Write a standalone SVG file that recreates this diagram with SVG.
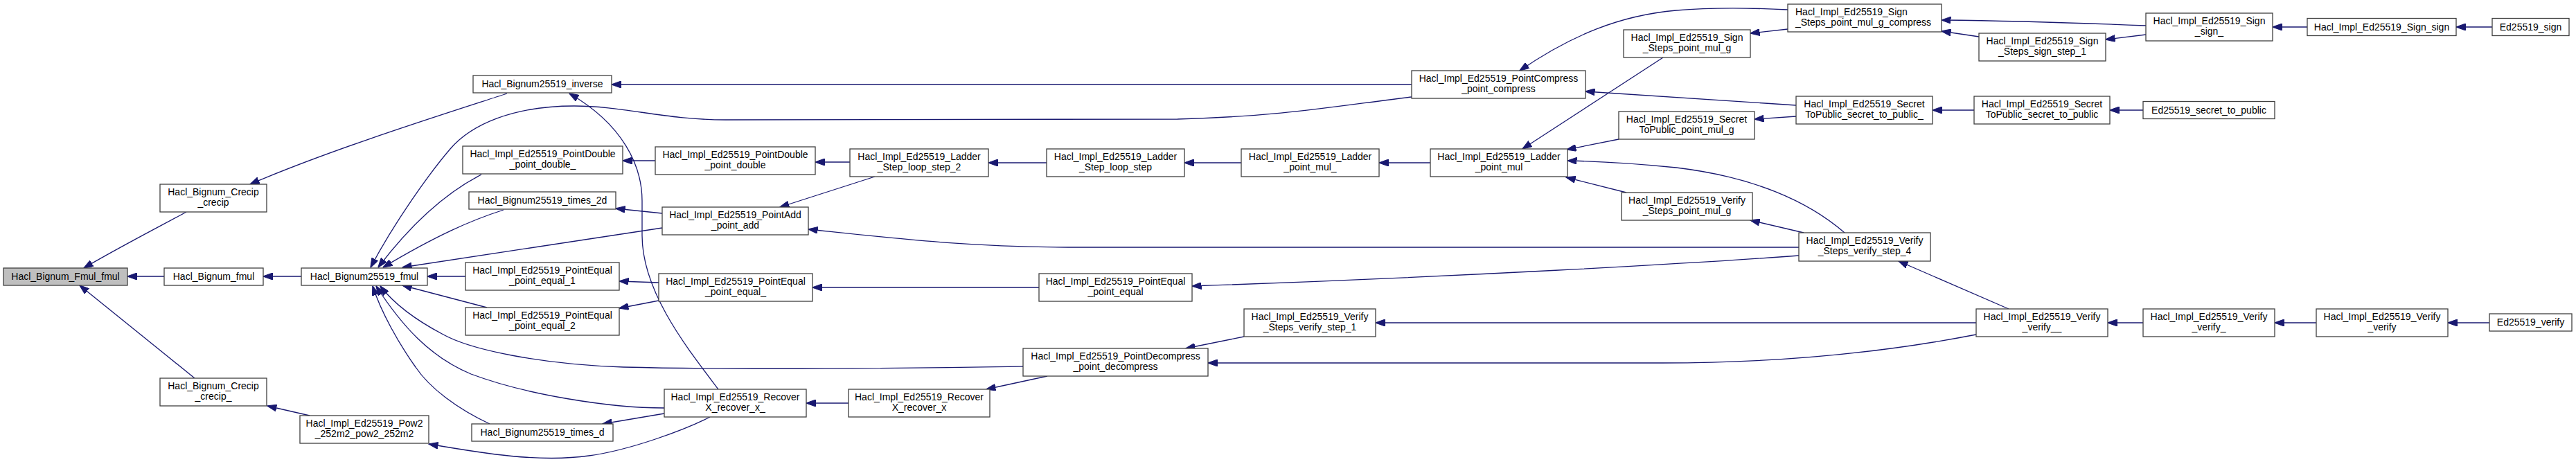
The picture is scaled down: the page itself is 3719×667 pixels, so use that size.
<svg xmlns="http://www.w3.org/2000/svg" width="3719" height="667" viewBox="0 0 3719 667">
<style>
.node rect{fill:#fff;stroke:#404040;stroke-width:1.3}
.node.root rect{fill:#bfbfbf}
.node text{font-family:"Liberation Sans",Arial,sans-serif;font-size:14px;fill:#000;text-anchor:middle}
.node text.l{text-anchor:start}
.edges path{fill:none;stroke:#191970;stroke-width:1.3;marker-end:url(#arr)}
</style>
<defs>
<marker id="arr" markerUnits="userSpaceOnUse" viewBox="0 0 14 10" refX="13.5" refY="5" markerWidth="14" markerHeight="10" orient="auto">
<path d="M0,0 L14,5 L0,10 Z" fill="#191970" stroke="#191970" stroke-width="1"/>
</marker>
</defs>
<rect width="3719" height="667" fill="#fff"/>
<g class="edges" id="connectors">
<path d="M269,306 C240,322 170,358 121,387"/>
<path d="M237,399 L184,399"/>
<path d="M281,546 L115,412"/>
<path d="M732,135 C640,165 480,215 361,266"/>
<path d="M435,399 L380,399"/>
<path d="M447,600 L386,586"/>
<path d="M2038,140 C1930,153 1850,168 1700,172 L1047,173 C960,173 900,153 829,153 C740,153 680,180 650,215 C620,250 570,320 535,386"/>
<path d="M695,252 C650,275 600,315 546,386"/>
<path d="M727,303 C680,318 630,340 553,386"/>
<path d="M956,329 L581,386"/>
<path d="M672,399 L617,399"/>
<path d="M703,444 L581,412"/>
<path d="M1477,529 C1350,531 1100,535 900,530 C780,526 680,505 640,483 C600,462 570,440 549,413"/>
<path d="M959,589 C880,589 760,570 680,540 C620,515 580,470 543,413"/>
<path d="M707,612 C660,590 620,560 600,530 C575,495 550,450 538,413"/>
<path d="M946,232 L899,232"/>
<path d="M1227,234 L1177,234"/>
<path d="M1263,255 L1126,299"/>
<path d="M956,308 L889,301"/>
<path d="M2597,357 L1560,357 C1400,357 1300,345 1167,331"/>
<path d="M1037,562 C990,500 927,420 927,340 L927,290 C927,240 900,180 822,135"/>
<path d="M951,408 L894,406"/>
<path d="M951,434 L894,445"/>
<path d="M1500,415 L1173,415"/>
<path d="M1225,582 L1164,582"/>
<path d="M959,597 L870,612"/>
<path d="M1025,602 C990,620 910,650 850,658 C780,668 700,655 619,641"/>
<path d="M1511,235 L1427,235"/>
<path d="M1792,235 L1710,235"/>
<path d="M2065,235 L1991,235"/>
<path d="M1512,543 L1424,562"/>
<path d="M1796,486 L1712,503"/>
<path d="M2853,483 C2750,503 2600,524 2400,524 L1744,524"/>
<path d="M2597,369 C2450,380 2100,400 1721,413"/>
<path d="M2853,466 L1986,466"/>
<path d="M2581,14 C2540,12 2480,10 2420,15 C2340,22 2270,50 2194,102"/>
<path d="M2593,152 L2289,132"/>
<path d="M2401,83 L2198,215"/>
<path d="M2337,201 L2262,216"/>
<path d="M2663,336 C2610,290 2530,255 2420,242 C2360,236 2310,233 2263,232"/>
<path d="M2348,278 L2261,256"/>
<path d="M2604,336 L2527,318"/>
<path d="M2581,42 L2527,48"/>
<path d="M2593,168 L2533,172"/>
<path d="M3098,37 C3000,33 2900,30 2803,29"/>
<path d="M2857,53 L2803,45"/>
<path d="M2850,159 L2790,159"/>
<path d="M2900,446 L2741,377"/>
<path d="M3098,50 L3040,57"/>
<path d="M3331,39 L3281,39"/>
<path d="M3598,39 L3546,39"/>
<path d="M3094,159 L3046,159"/>
<path d="M3094,466 L3043,466"/>
<path d="M3344,466 L3284,466"/>
<path d="M3594,466 L3534,466"/>
<path d="M2038,122 L883,122"/>
</g>
<g class="node root" id="n0"><rect x="5" y="387" width="179" height="25"/><text x="94.5" y="404">Hacl_Bignum_Fmul_fmul</text></g>
<g class="node" id="n1"><rect x="231" y="266" width="154" height="40"/><text x="308" y="282">Hacl_Bignum_Crecip</text><text x="308" y="297">_crecip</text></g>
<g class="node" id="n2"><rect x="237" y="387" width="143" height="25"/><text x="308.5" y="404">Hacl_Bignum_fmul</text></g>
<g class="node" id="n3"><rect x="231" y="546" width="154" height="40"/><text x="308" y="562">Hacl_Bignum_Crecip</text><text x="308" y="577">_crecip_</text></g>
<g class="node" id="n4"><rect x="435" y="387" width="182" height="25"/><text x="526" y="404">Hacl_Bignum25519_fmul</text></g>
<g class="node" id="n5"><rect x="433" y="600" width="186" height="40"/><text x="526" y="616">Hacl_Impl_Ed25519_Pow2</text><text x="526" y="631">_252m2_pow2_252m2</text></g>
<g class="node" id="n6"><rect x="683" y="109" width="200" height="25"/><text x="783" y="126">Hacl_Bignum25519_inverse</text></g>
<g class="node" id="n7"><rect x="668" y="211" width="231" height="40"/><text x="783.5" y="227">Hacl_Impl_Ed25519_PointDouble</text><text x="783.5" y="242">_point_double_</text></g>
<g class="node" id="n8"><rect x="677" y="277" width="212" height="25"/><text x="783" y="294">Hacl_Bignum25519_times_2d</text></g>
<g class="node" id="n9"><rect x="672" y="379" width="222" height="40"/><text x="783" y="395">Hacl_Impl_Ed25519_PointEqual</text><text x="783" y="410">_point_equal_1</text></g>
<g class="node" id="n10"><rect x="672" y="444" width="222" height="40"/><text x="783" y="460">Hacl_Impl_Ed25519_PointEqual</text><text x="783" y="475">_point_equal_2</text></g>
<g class="node" id="n11"><rect x="681" y="612" width="204" height="25"/><text x="783" y="629">Hacl_Bignum25519_times_d</text></g>
<g class="node" id="n12"><rect x="946" y="212" width="231" height="40"/><text x="1061.5" y="228">Hacl_Impl_Ed25519_PointDouble</text><text x="1061.5" y="243">_point_double</text></g>
<g class="node" id="n13"><rect x="956" y="299" width="211" height="40"/><text x="1061.5" y="315">Hacl_Impl_Ed25519_PointAdd</text><text x="1061.5" y="330">_point_add</text></g>
<g class="node" id="n14"><rect x="951" y="395" width="222" height="40"/><text x="1062" y="411">Hacl_Impl_Ed25519_PointEqual</text><text x="1062" y="426">_point_equal_</text></g>
<g class="node" id="n15"><rect x="959" y="562" width="205" height="40"/><text x="1061.5" y="578">Hacl_Impl_Ed25519_Recover</text><text x="1061.5" y="593">X_recover_x_</text></g>
<g class="node" id="n16"><rect x="1227" y="215" width="200" height="40"/><text x="1327" y="231">Hacl_Impl_Ed25519_Ladder</text><text x="1327" y="246">_Step_loop_step_2</text></g>
<g class="node" id="n17"><rect x="1225" y="562" width="204" height="40"/><text x="1327" y="578">Hacl_Impl_Ed25519_Recover</text><text x="1327" y="593">X_recover_x</text></g>
<g class="node" id="n18"><rect x="1511" y="215" width="199" height="40"/><text x="1610.5" y="231">Hacl_Impl_Ed25519_Ladder</text><text x="1610.5" y="246">_Step_loop_step</text></g>
<g class="node" id="n19"><rect x="1500" y="395" width="221" height="40"/><text x="1610.5" y="411">Hacl_Impl_Ed25519_PointEqual</text><text x="1610.5" y="426">_point_equal</text></g>
<g class="node" id="n20"><rect x="1477" y="503" width="267" height="40"/><text x="1610.5" y="519">Hacl_Impl_Ed25519_PointDecompress</text><text x="1610.5" y="534">_point_decompress</text></g>
<g class="node" id="n21"><rect x="1792" y="215" width="199" height="40"/><text x="1891.5" y="231">Hacl_Impl_Ed25519_Ladder</text><text x="1891.5" y="246">_point_mul_</text></g>
<g class="node" id="n22"><rect x="1796" y="446" width="190" height="40"/><text x="1891" y="462">Hacl_Impl_Ed25519_Verify</text><text x="1891" y="477">_Steps_verify_step_1</text></g>
<g class="node" id="n23"><rect x="2038" y="102" width="251" height="40"/><text x="2163.5" y="118">Hacl_Impl_Ed25519_PointCompress</text><text x="2163.5" y="133">_point_compress</text></g>
<g class="node" id="n24"><rect x="2065" y="215" width="198" height="40"/><text x="2164" y="231">Hacl_Impl_Ed25519_Ladder</text><text x="2164" y="246">_point_mul</text></g>
<g class="node" id="n25"><rect x="2344" y="43" width="183" height="40"/><text x="2435.5" y="59">Hacl_Impl_Ed25519_Sign</text><text x="2435.5" y="74">_Steps_point_mul_g</text></g>
<g class="node" id="n26"><rect x="2337" y="161" width="196" height="40"/><text x="2435" y="177">Hacl_Impl_Ed25519_Secret</text><text x="2435" y="192">ToPublic_point_mul_g</text></g>
<g class="node" id="n27"><rect x="2341" y="278" width="189" height="40"/><text x="2435.5" y="294">Hacl_Impl_Ed25519_Verify</text><text x="2435.5" y="309">_Steps_point_mul_g</text></g>
<g class="node" id="n28"><rect x="2581" y="6" width="222" height="40"/><text class="l" x="2592" y="22">Hacl_Impl_Ed25519_Sign</text><text class="l" x="2592" y="37">_Steps_point_mul_g_compress</text></g>
<g class="node" id="n29"><rect x="2593" y="139" width="197" height="40"/><text x="2691.5" y="155">Hacl_Impl_Ed25519_Secret</text><text x="2691.5" y="170">ToPublic_secret_to_public_</text></g>
<g class="node" id="n30"><rect x="2597" y="336" width="190" height="41"/><text x="2692" y="352">Hacl_Impl_Ed25519_Verify</text><text x="2692" y="367">_Steps_verify_step_4</text></g>
<g class="node" id="n31"><rect x="2857" y="48" width="183" height="40"/><text x="2948.5" y="64">Hacl_Impl_Ed25519_Sign</text><text x="2948.5" y="79">_Steps_sign_step_1</text></g>
<g class="node" id="n32"><rect x="2850" y="139" width="196" height="40"/><text x="2948" y="155">Hacl_Impl_Ed25519_Secret</text><text x="2948" y="170">ToPublic_secret_to_public</text></g>
<g class="node" id="n33"><rect x="2853" y="446" width="190" height="40"/><text x="2948" y="462">Hacl_Impl_Ed25519_Verify</text><text x="2948" y="477">_verify__</text></g>
<g class="node" id="n34"><rect x="3098" y="19" width="183" height="40"/><text x="3189.5" y="35">Hacl_Impl_Ed25519_Sign</text><text x="3189.5" y="50">_sign_</text></g>
<g class="node" id="n35"><rect x="3094" y="146.5" width="190" height="25"/><text x="3189" y="163.5">Ed25519_secret_to_public</text></g>
<g class="node" id="n36"><rect x="3094" y="446" width="190" height="40"/><text x="3189" y="462">Hacl_Impl_Ed25519_Verify</text><text x="3189" y="477">_verify_</text></g>
<g class="node" id="n37"><rect x="3331" y="26.5" width="215" height="25"/><text x="3438.5" y="43.5">Hacl_Impl_Ed25519_Sign_sign</text></g>
<g class="node" id="n38"><rect x="3344" y="446" width="190" height="40"/><text x="3439" y="462">Hacl_Impl_Ed25519_Verify</text><text x="3439" y="477">_verify</text></g>
<g class="node" id="n39"><rect x="3598" y="26.5" width="111" height="25"/><text x="3653.5" y="43.5">Ed25519_sign</text></g>
<g class="node" id="n40"><rect x="3594" y="453" width="119" height="25"/><text x="3653.5" y="470">Ed25519_verify</text></g>
</svg>
